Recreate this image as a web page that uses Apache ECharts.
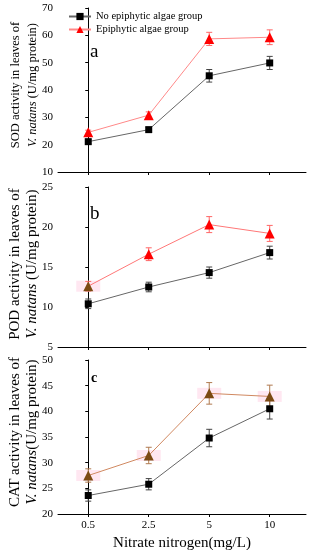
<!DOCTYPE html>
<html><head><meta charset="utf-8">
<script src="https://cdn.jsdelivr.net/npm/echarts@6/dist/echarts.min.js"></script>
<style>html,body{margin:0;padding:0;background:#fff}#c{width:311px;height:550px}</style>
</head><body><div id="c"></div>
<script>
const categories = ['0.5', '2.5', '5', '10'];
const sodNo = [21.1, 25.5, 45.2, 49.9];
const sodNoErr = [0.8, 0.8, 2.3, 2.4];
const sodEpi = [24.5, 30.8, 58.7, 59.3];
const sodEpiErr = [0.8, 1.2, 2.4, 2.7];
const podNo = [10.4, 12.5, 14.3, 16.8];
const podNoErr = [0.6, 0.6, 0.7, 0.8];
const podEpi = [12.6, 16.6, 20.3, 19.2];
const podEpiErr = [0.6, 0.8, 1.0, 1.0];
const podBrownIdx = [0];
const catNo = [23.6, 25.8, 34.8, 40.5];
const catNoErr = [1.1, 1.1, 1.7, 2.0];
const catEpi = [27.5, 31.4, 43.5, 42.9];
const catEpiErr = [1.3, 1.6, 2.1, 2.2];
const catBrownIdx = [0, 1, 2, 3];
const starSod = [[2, 63.6]];
const starPod = [[2, 21.8]];
const starCat = [[2, 46.7]];
const yTicksSod = {min: 10, max: 70, interval: 10};
const yTicksPod = {min: 5, max: 25, interval: 5};
const yTicksCat = {min: 20, max: 50, interval: 5};

const FONT = '"Liberation Serif", "DejaVu Serif", serif';
const NO = 'No epiphytic algae group';
const EPI = 'Epiphytic algae group';
const BROWN = '#7b4a12';
const PINK = '#ffe1ee';
const chart = echarts.init(document.getElementById('c'));

const pts = arr => arr.map((v, i) => [i, v]);
const errPts = (arr, err) => arr.map((v, i) => [i, v, err[i]]);

function errSeries(idx, arr, err, color) {
  return {
    type: 'custom', xAxisIndex: idx, yAxisIndex: idx, z: 2, silent: true,
    data: errPts(arr, err),
    renderItem: function (params, api) {
      const x = api.value(0), y = api.value(1), e = api.value(2);
      const t = api.coord([x, y + e]), b = api.coord([x, y - e]);
      const h = 3;
      const st = {stroke: color, lineWidth: 1};
      return {type: 'group', children: [
        {type: 'line', shape: {x1: t[0], y1: t[1], x2: b[0], y2: b[1]}, style: st},
        {type: 'line', shape: {x1: t[0] - h, y1: t[1], x2: t[0] + h, y2: t[1]}, style: st},
        {type: 'line', shape: {x1: b[0] - h, y1: b[1], x2: b[0] + h, y2: b[1]}, style: st}
      ]};
    }
  };
}
function lineSeries(idx, name, arr, symbol, size, mColor, lColor, brownIdx) {
  const data = pts(arr).map((p, i) => (brownIdx && brownIdx.indexOf(i) >= 0)
    ? {value: p, itemStyle: {color: BROWN}} : p);
  return {
    type: 'line', name: name, xAxisIndex: idx, yAxisIndex: idx, z: 3,
    data: data, symbol: symbol, symbolSize: size,
    itemStyle: {color: mColor}, lineStyle: {color: lColor, width: 1}
  };
}
function highlightSeries(idx, arr, brownIdx) {
  return {
    type: 'scatter', xAxisIndex: idx, yAxisIndex: idx, z: 1, silent: true,
    symbol: 'rect', symbolSize: [24, 11], itemStyle: {color: PINK},
    data: brownIdx.map(i => [i, arr[i]])
  };
}
function starSeries(idx, data) {
  return {
    type: 'scatter', xAxisIndex: idx, yAxisIndex: idx, symbol: 'none', data: data, silent: true,
    label: {show: true, position: 'inside', formatter: '*', color: '#555', fontSize: 10, fontFamily: FONT}
  };
}
function xAxis(idx, labels) {
  return {
    type: 'value', gridIndex: idx, min: -0.5, max: 3.6,
    axisLine: {show: true, lineStyle: {color: '#000', width: 1}},
    axisTick: {show: true, customValues: [0, 1, 2, 3], length: 3, lineStyle: {color: '#000'}},
    splitLine: {show: false},
    axisLabel: labels ? {show: true, customValues: [0, 1, 2, 3], formatter: v => categories[Math.round(v)],
      color: '#000', fontFamily: FONT, fontSize: 11, margin: 6} : {show: false},
    name: labels ? 'Nitrate nitrogen(mg/L)' : '', nameLocation: 'middle', nameGap: 22,
    nameTextStyle: {color: '#000', fontFamily: FONT, fontSize: 15}
  };
}
function yAxis(idx, t, first, sep, pad, fs) {
  return {
    type: 'value', gridIndex: idx, min: t.min, max: t.max, interval: t.interval,
    axisLine: {show: true, lineStyle: {color: '#000', width: 1}},
    axisTick: {show: true, length: 3, lineStyle: {color: '#000'}},
    splitLine: {show: false},
    axisLabel: {color: '#000', fontFamily: FONT, fontSize: 11, margin: 5},
    name: '{a|' + first + '}\n{i|V. natans}{a|' + sep + '(U/mg protein)}',
    nameLocation: 'middle', nameRotate: 90, nameGap: 17, nameMoveOverlap: false,
    nameTextStyle: {color: '#000', fontFamily: FONT, fontSize: fs, lineHeight: 17, padding: pad,
      rich: {a: {fontFamily: FONT, fontSize: fs, color: '#000', lineHeight: 17},
             i: {fontFamily: FONT, fontSize: fs, fontStyle: 'italic', color: '#000', lineHeight: 17}}}
  };
}

chart.setOption({
  animation: false,
  grid: [
    {left: 58, right: 5, top: 8, height: 164, outerBoundsMode: 'none'},
    {left: 58, right: 5, top: 187, height: 160, outerBoundsMode: 'none'},
    {left: 58, right: 5, top: 360, height: 154, outerBoundsMode: 'none'}
  ],
  xAxis: [xAxis(0, false), xAxis(1, false), xAxis(2, true)],
  yAxis: [
    yAxis(0, yTicksSod, 'SOD activity in leaves of', ' ', [0, 0, 0, 10], 12.5),
    yAxis(1, yTicksPod, 'POD activity in leaves of', ' ', [0, 0, 0, 6], 15),
    yAxis(2, yTicksCat, 'CAT activity in leaves of', '', [0, 0, 0, 10], 15)
  ],
  title: [
    {text: 'a', left: 85, top: 38, textStyle: {fontFamily: FONT, fontSize: 19, fontWeight: 'normal', color: '#000'}},
    {text: 'b', left: 85, top: 200, textStyle: {fontFamily: FONT, fontSize: 19, fontWeight: 'normal', color: '#000'}},
    {text: 'c', left: 86, top: 366, textStyle: {fontFamily: FONT, fontSize: 14, fontWeight: 'bold', color: '#000'}}
  ],
  legend: {
    orient: 'vertical', left: 68, top: 11, padding: 0, itemWidth: 22, itemHeight: 9, itemGap: 2,
    data: [NO, EPI],
    textStyle: {fontFamily: FONT, fontSize: 10.5, color: '#000'}
  },
  series: [
    errSeries(0, sodNo, sodNoErr, '#444'),
    errSeries(0, sodEpi, sodEpiErr, '#ff6666'),
    lineSeries(0, NO, sodNo, 'rect', 7, '#000', '#666'),
    lineSeries(0, EPI, sodEpi, 'triangle', 10, '#ff0000', '#ff8888'),
    starSeries(0, starSod),
    highlightSeries(1, podEpi, podBrownIdx),
    errSeries(1, podNo, podNoErr, '#444'),
    errSeries(1, podEpi, podEpiErr, '#ff6666'),
    lineSeries(1, NO, podNo, 'rect', 7, '#000', '#666'),
    lineSeries(1, EPI, podEpi, 'triangle', 10, '#ff0000', '#ff7777', podBrownIdx),
    starSeries(1, starPod),
    highlightSeries(2, catEpi, catBrownIdx),
    errSeries(2, catNo, catNoErr, '#444'),
    errSeries(2, catEpi, catEpiErr, '#b07a50'),
    lineSeries(2, NO, catNo, 'rect', 7, '#000', '#666'),
    lineSeries(2, EPI, catEpi, 'triangle', 10, BROWN, '#d08860', catBrownIdx),
    starSeries(2, starCat)
  ]
});
</script></body></html>
